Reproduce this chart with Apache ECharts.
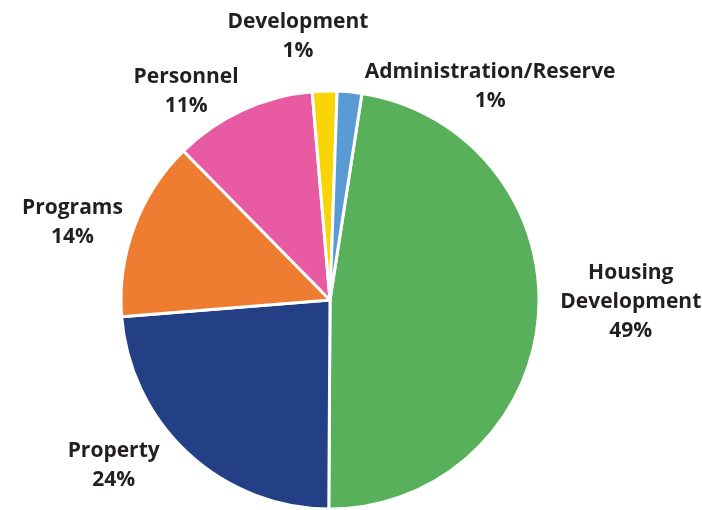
<!DOCTYPE html>
<html>
<head>
<meta charset="utf-8">
<script src="https://cdn.jsdelivr.net/npm/echarts@6/dist/echarts.min.js"></script>
<style>
html,body{margin:0;padding:0;background:#fff;}
#chart{width:702px;height:510px;}
</style>
</head>
<body>
<div id="chart"></div>
<script>
var categories = ['Housing\nDevelopment', 'Property', 'Programs', 'Personnel', 'Development', 'Administration/Reserve'];
var values = [47.6, 23.6, 13.9, 11.0, 1.9, 1.9];
var percentLabels = ['49%', '24%', '14%', '11%', '1%', '1%'];
var colors = ['#58b05a', '#233f85', '#ee7d31', '#e85ba2', '#f9d508', '#5b9bd5'];

// label nudges (layout only)
var labelNudge = [[-5, -16], [-5, 4], [15, 0], [16, -8], [59, -43], [-1, 7]];

var chart = echarts.init(document.getElementById('chart'));
var data = categories.map(function (c, i) {
  return { name: c, value: values[i], itemStyle: { color: colors[i] } };
});
chart.setOption({
  animation: false,
  series: [{
    type: 'pie',
    center: [330, 300],
    radius: 209,
    startAngle: 81.2,
    clockwise: true,
    avoidLabelOverlap: false,
    itemStyle: { borderColor: '#fff', borderWidth: 3 },
    label: {
      show: true,
      position: 'outside',
      fontFamily: 'Open Sans',
      fontWeight: 'bold',
      fontSize: 21,
      lineHeight: 29,
      color: '#231f20',
      formatter: function (p) { return p.name + '\n' + percentLabels[p.dataIndex]; }
    },
    labelLine: { show: false, length: 12, length2: 10 },
    labelLayout: function (params) {
      var r = params.labelRect;
      var n = labelNudge[params.dataIndex];
      return { x: r.x + r.width / 2 + n[0], y: r.y + r.height / 2 + n[1], align: 'center', verticalAlign: 'middle' };
    },
    data: data
  }]
});
</script>
</body>
</html>
